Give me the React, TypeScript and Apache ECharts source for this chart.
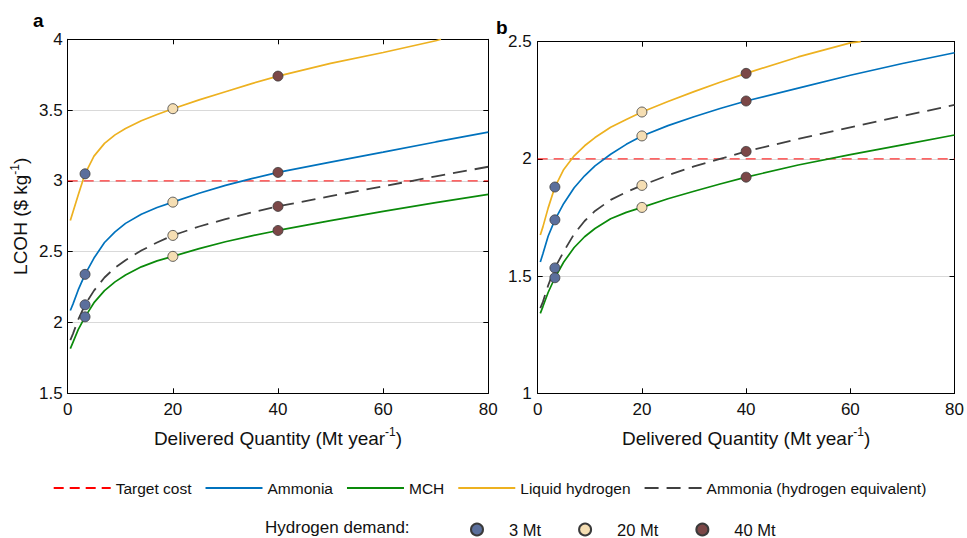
import React, { useEffect, useRef } from "react";
import * as echarts from "echarts";

// Shared delivered quantity grid (Mt/year)
const X = [0.5, 1, 2, 3.3, 5, 7, 9, 11, 14, 17, 20, 25, 30, 35, 40, 50, 60, 70, 80];

// Panel a (LCOH $/kg)
const aTarget = 3;
const aAmmonia = [2.085, 2.13, 2.23, 2.34, 2.455, 2.565, 2.64, 2.7, 2.765, 2.812, 2.85, 2.913, 2.968, 3.016, 3.06, 3.133, 3.203, 3.275, 3.345];
const aMCH = [1.815, 1.86, 1.95, 2.04, 2.14, 2.225, 2.287, 2.335, 2.393, 2.435, 2.467, 2.522, 2.57, 2.612, 2.65, 2.72, 2.785, 2.847, 2.905];
const aLH = [2.72, 2.78, 2.9, 3.05, 3.175, 3.265, 3.325, 3.37, 3.425, 3.469, 3.51, 3.572, 3.63, 3.687, 3.74, 3.83, 3.907, 3.99, null];
const aLHEnd = [71, 4.0];
const aNH3eq = [1.875, 1.92, 2.02, 2.125, 2.225, 2.318, 2.387, 2.44, 2.508, 2.565, 2.615, 2.678, 2.73, 2.777, 2.82, 2.892, 2.962, 3.032, 3.1];

// Panel b
const bTarget = 2;
const bAmmonia = [1.56, 1.595, 1.67, 1.74, 1.81, 1.877, 1.928, 1.97, 2.02, 2.062, 2.098, 2.142, 2.18, 2.215, 2.247, 2.302, 2.357, 2.407, 2.453];
const bMCH = [1.341, 1.37, 1.43, 1.493, 1.56, 1.622, 1.668, 1.703, 1.745, 1.772, 1.793, 1.83, 1.862, 1.893, 1.922, 1.974, 2.018, 2.06, 2.102];
const bLH = [1.675, 1.71, 1.79, 1.88, 1.955, 2.013, 2.056, 2.091, 2.135, 2.168, 2.2, 2.245, 2.287, 2.327, 2.365, 2.435, 2.495, null, null];
const bLHEnd = [62, 2.5];
const bNH3eq = [1.363, 1.39, 1.46, 1.535, 1.605, 1.68, 1.735, 1.778, 1.825, 1.858, 1.887, 1.93, 1.968, 2.0, 2.032, 2.085, 2.135, 2.183, 2.23];

// Hydrogen demand markers
const demandNames = ["3 Mt", "20 Mt", "40 Mt"];
const demandX = [3.3, 20, 40];
const demandColors = ["#5b6f9c", "#f5deb3", "#7b4747"];

const lineNames = ["Target cost", "Ammonia", "MCH", "Liquid hydrogen", "Ammonia (hydrogen equivalent)"];

const FONT = "Liberation Sans";

function pairs(ys: (number | null)[], end?: number[]) {
  const out: number[][] = [];
  X.forEach((x, i) => {
    const y = ys[i];
    if (y !== null && y !== undefined) out.push([x, y]);
  });
  if (end) out.push(end);
  return out;
}

function panelSeries(idx: number, target: number, amm: number[], mch: number[], lh: (number | null)[], lhEnd: number[], eq: number[]) {
  const base = { type: "line", xAxisIndex: idx * 2, yAxisIndex: idx * 2, symbol: "none", smooth: false, clip: true };
  const s: any[] = [
    { ...base, name: "Target cost", data: [[0, target], [80, target]], lineStyle: { color: "#ff0000", width: 1, type: [10, 6] }, itemStyle: { color: "#ff0000" }, z: 2 },
    { ...base, name: "Ammonia", data: pairs(amm), lineStyle: { color: "#0072bd", width: 1.7 }, itemStyle: { color: "#0072bd" }, z: 3 },
    { ...base, name: "MCH", data: pairs(mch), lineStyle: { color: "#0a8a0a", width: 1.7 }, itemStyle: { color: "#0a8a0a" }, z: 3 },
    { ...base, name: "Liquid hydrogen", data: pairs(lh, lhEnd), lineStyle: { color: "#edb120", width: 1.7 }, itemStyle: { color: "#edb120" }, z: 3 },
    { ...base, name: "Ammonia (hydrogen equivalent)", data: pairs(eq), lineStyle: { color: "#404040", width: 1.8, type: [14, 8] }, itemStyle: { color: "#404040" }, z: 3 },
  ];
  const curves = [lh, amm, eq, mch];
  demandNames.forEach((nm, d) => {
    const xi = X.indexOf(demandX[d]);
    s.push({
      type: "scatter",
      name: nm,
      xAxisIndex: idx * 2,
      yAxisIndex: idx * 2,
      symbol: "circle",
      symbolSize: 10,
      data: curves.map((c) => [demandX[d], c[xi] as number]),
      itemStyle: { color: demandColors[d], borderColor: "#3a3a3a", borderWidth: 0.8, opacity: 1 },
      z: 5,
    });
  });
  return s;
}

const richTitle = {
  n: { fontSize: 19, fontFamily: FONT, color: "#111", lineHeight: 24 },
  s: { fontSize: 12, fontFamily: FONT, color: "#111", verticalAlign: "top", lineHeight: 12 },
};

function mainX(grid: number) {
  return {
    type: "value",
    gridIndex: grid,
    min: 0,
    max: 80,
    interval: 20,
    name: "{n|Delivered Quantity (Mt year}{s|-1}{n|)}",
    nameLocation: "middle",
    nameGap: 33,
    nameTextStyle: { rich: richTitle },
    axisLine: { show: true, lineStyle: { color: "#000", width: 1 } },
    axisTick: { show: true, inside: true, length: 5, lineStyle: { color: "#000" } },
    axisLabel: { margin: 8, fontSize: 17, color: "#111", fontFamily: FONT },
    splitLine: { show: false },
  };
}
function topX(grid: number) {
  return {
    type: "value",
    gridIndex: grid,
    position: "top",
    min: 0,
    max: 80,
    interval: 20,
    axisLine: { show: true, onZero: false, lineStyle: { color: "#000", width: 1 } },
    axisTick: { show: true, inside: true, length: 5, lineStyle: { color: "#000" } },
    axisLabel: { show: false },
    splitLine: { show: false },
  };
}
function mainY(grid: number, min: number, max: number, withName: boolean, margin: number) {
  const o: any = {
    type: "value",
    gridIndex: grid,
    min,
    max,
    interval: 0.5,
    axisLine: { show: true, onZero: false, lineStyle: { color: "#000", width: 1 } },
    axisTick: { show: true, inside: true, length: 5, lineStyle: { color: "#000" } },
    axisLabel: { margin, fontSize: 17, color: "#111", fontFamily: FONT },
    splitLine: { show: true, lineStyle: { color: "#d9d9d9", width: 1 } },
  };
  if (withName) {
    o.name = "{n|LCOH ($ kg}{s|-1}{n|)}";
    o.nameLocation = "middle";
    o.nameGap = 35;
    o.nameTextStyle = { rich: richTitle };
  }
  return o;
}
function rightY(grid: number, min: number, max: number) {
  return {
    type: "value",
    gridIndex: grid,
    position: "right",
    min,
    max,
    interval: 0.5,
    axisLine: { show: true, onZero: false, lineStyle: { color: "#000", width: 1 } },
    axisTick: { show: true, inside: true, length: 5, lineStyle: { color: "#000" } },
    axisLabel: { show: false },
    splitLine: { show: false },
  };
}

export default function App() {
  const ref = useRef<HTMLDivElement>(null);
  useEffect(() => {
    if (!ref.current) return;
    const chart = echarts.init(ref.current, null, { renderer: "svg" });
    const option: any = {
      animation: false,
      backgroundColor: "#ffffff",
      textStyle: { fontFamily: FONT },
      grid: [
        { left: 67.7, top: 39.3, width: 420.6, height: 354, containLabel: false },
        { left: 537.7, top: 41.7, width: 421.6, height: 351.6, containLabel: false },
      ],
      xAxis: [mainX(0), topX(0), mainX(1), topX(1)],
      yAxis: [mainY(0, 1.5, 4, true, 5), rightY(0, 1.5, 4), mainY(1, 1, 2.5, false, 6), rightY(1, 1, 2.5)],
      legend: [
        {
          data: lineNames,
          left: 52.7,
          top: 480,
          padding: 0,
          itemWidth: 57,
          itemHeight: 14,
          itemGap: 13,
          selectedMode: false,
          itemStyle: { opacity: 0 },
          textStyle: { fontSize: 15.5, color: "#111", fontFamily: FONT },
        },
        {
          data: demandNames,
          left: 470,
          top: 521,
          padding: 0,
          icon: "circle",
          itemWidth: 12,
          itemHeight: 12,
          itemGap: 37,
          selectedMode: false,
          formatter: (name: string) => "{g|}{t|" + name + "}",
          textStyle: {
            fontSize: 16.5,
            color: "#111",
            fontFamily: FONT,
            rich: { g: { width: 21 }, t: { fontSize: 16.5, color: "#111", fontFamily: FONT } },
          },
        },
      ],
      graphic: [
        { type: "text", x: 33, y: 20, style: { text: "a", fontSize: 19, fontWeight: "bold", fontFamily: FONT, fill: "#000", verticalAlign: "middle" } },
        { type: "text", x: 496, y: 27, style: { text: "b", fontSize: 19, fontWeight: "bold", fontFamily: FONT, fill: "#000", verticalAlign: "middle" } },
        { type: "text", x: 265, y: 527, style: { text: "Hydrogen demand:", fontSize: 17, fontFamily: FONT, fill: "#111", verticalAlign: "middle" } },
      ],
      series: [
        ...panelSeries(0, aTarget, aAmmonia, aMCH, aLH, aLHEnd, aNH3eq),
        ...panelSeries(1, bTarget, bAmmonia, bMCH, bLH, bLHEnd, bNH3eq),
      ],
    };
    chart.setOption(option);
    return () => chart.dispose();
  }, []);
  return <div ref={ref} style={{ position: "absolute", left: 0, top: 0, width: 967, height: 538 }} />;
}
